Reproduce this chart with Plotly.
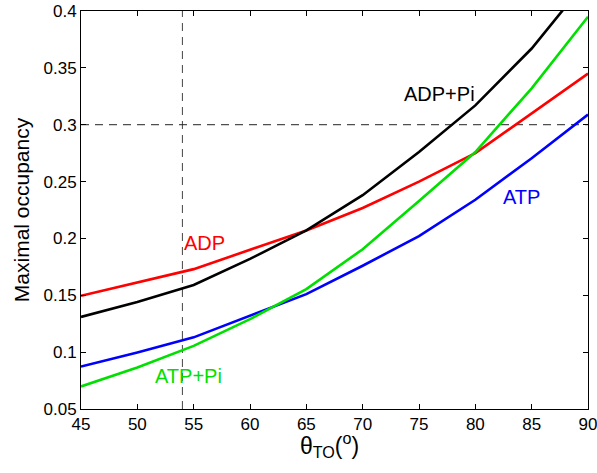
import plotly.graph_objects as go

theta = [45, 50, 55, 60, 65, 70, 75, 80, 85, 90]
adp = [0.1495, 0.161, 0.173, 0.190, 0.207, 0.2268, 0.250, 0.275, 0.310, 0.345]
adp_pi = [0.131, 0.144, 0.159, 0.182, 0.207, 0.238, 0.276, 0.317, 0.367, 0.428]
atp = [0.0874, 0.0997, 0.113, 0.132, 0.151, 0.176, 0.202, 0.234, 0.2705, 0.309]
atp_pi = [0.0698, 0.0865, 0.1055, 0.129, 0.1554, 0.1905, 0.233, 0.276, 0.332, 0.395]

x_ticks = [45, 50, 55, 60, 65, 70, 75, 80, 85, 90]
y_ticks = [0.05, 0.1, 0.15, 0.2, 0.25, 0.3, 0.35, 0.4]
y_tick_text = ["0.05", "0.1", "0.15", "0.2", "0.25", "0.3", "0.35", "0.4"]

ref_theta = 54
ref_occ = 0.3

series = [
    ("ADP", adp, "#ff0000"),
    ("ADP+Pi", adp_pi, "#000000"),
    ("ATP", atp, "#0000ff"),
    ("ATP+Pi", atp_pi, "#00e000"),
]

labels = [
    ("ADP+Pi", 76.8, 0.327, "#000000"),
    ("ATP", 84.1, 0.2365, "#0000ff"),
    ("ADP", 56.0, 0.196, "#ff0000"),
    ("ATP+Pi", 54.5, 0.079, "#00e000"),
]

FONT = "Liberation Sans, Arial"

fig = go.Figure()

fig.add_trace(go.Scatter(x=[ref_theta, ref_theta], y=[0.05, 0.4], mode="lines",
                         line=dict(color="#444444", width=1, dash="8px,6px"),
                         showlegend=False, hoverinfo="skip"))
fig.add_trace(go.Scatter(x=[45, 90], y=[ref_occ, ref_occ], mode="lines",
                         line=dict(color="#222222", width=1, dash="8px,6px"),
                         showlegend=False, hoverinfo="skip"))

for name, vals, col in series:
    fig.add_trace(go.Scatter(x=theta, y=vals, mode="lines", name=name,
                             line=dict(color=col, width=2.6), showlegend=False))

for txt, xx, yy, col in labels:
    fig.add_annotation(x=xx, y=yy, text=txt, showarrow=False,
                       font=dict(color=col, size=20, family=FONT))

# x-axis title placed just below the tick labels
fig.add_annotation(x=0.49, y=-0.045, xref="paper", yref="paper", xanchor="center",
                   yanchor="top", showarrow=False,
                   text="θ<sub>TO</sub>(<sup>o</sup>)",
                   font=dict(size=23, color="black", family=FONT))

axis_common = dict(showline=True, linecolor="black", linewidth=1, mirror="ticks",
                   ticks="inside", ticklen=5, tickcolor="black", showgrid=False,
                   zeroline=False, automargin=False, ticklabeloverflow="allow",
                   tickfont=dict(size=17, color="black", family=FONT))

fig.update_xaxes(range=[45, 90], tickvals=x_ticks, **axis_common)
fig.update_yaxes(range=[0.05, 0.4], tickvals=y_ticks, ticktext=y_tick_text,
                 title=dict(text="Maximal occupancy", standoff=8,
                            font=dict(size=21, color="black", family=FONT)),
                 **axis_common)

fig.update_layout(width=597, height=473, margin=dict(l=81, r=9, t=11, b=64),
                  plot_bgcolor="white", paper_bgcolor="white")

fig.write_html("out.html", config={"displayModeBar": False},
               post_script="document.body.style.margin='0';document.body.style.overflow='hidden';")
